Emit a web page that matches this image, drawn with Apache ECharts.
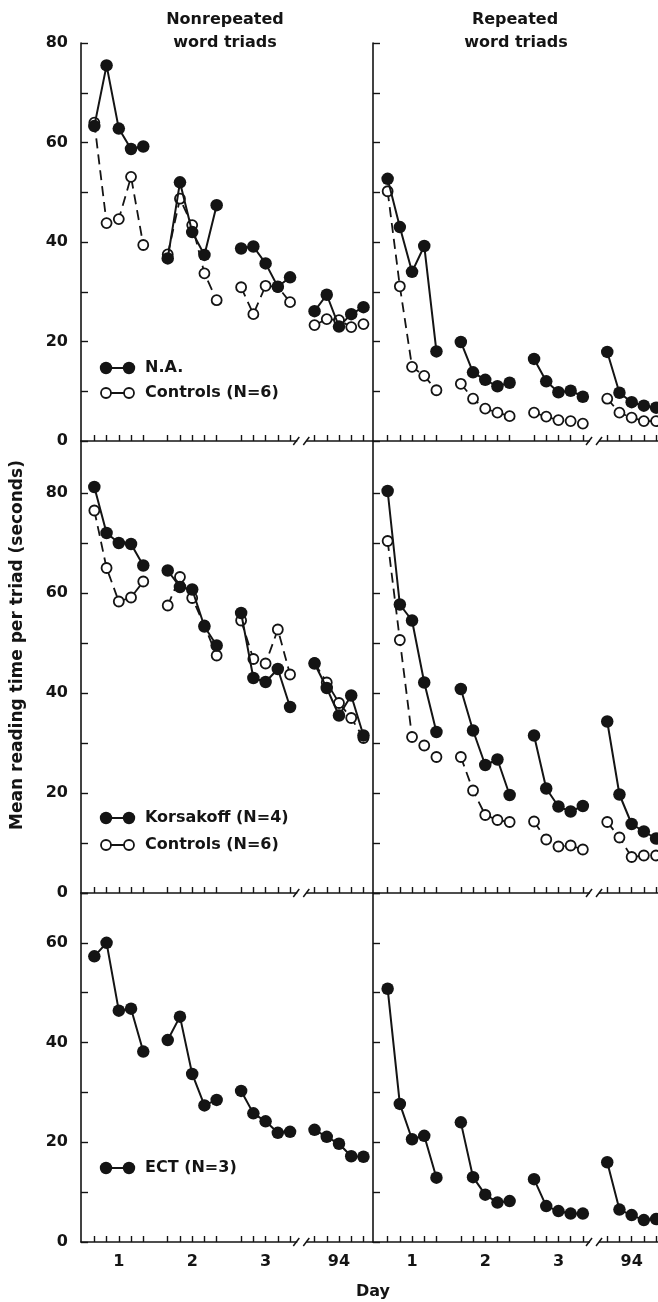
<!DOCTYPE html>
<html><head><meta charset="utf-8">
<script src="https://cdn.jsdelivr.net/npm/echarts@6/dist/echarts.min.js"></script>
<style>html,body{margin:0;padding:0;background:#fff}#c{width:658px;height:1302px}</style>
</head><body><div id="c"></div>
<script>
// ---- data ----
const dayLabels = ['1', '2', '3', '94'];
const trialsPerDay = 5;
const yTickValuesTall = [0, 10, 20, 30, 40, 50, 60, 70, 80];
const yTickValuesShort = [0, 10, 20, 30, 40, 50, 60, 70];
const yLabelValuesTall = [0, 20, 40, 60, 80];
const yLabelValuesShort = [0, 20, 40, 60];

// Nonrepeated word triads
const naNonrep     = [63.3, 75.5, 62.8, 58.7, 59.2, 36.7, 52.0, 42.0, 37.4, 47.4, 38.7, 39.1, 35.7, 31.0, 32.9, 26.1, 29.4, 23.0, 25.5, 26.9];
const ctrlNonrepA  = [64.0, 43.8, 44.6, 53.1, 39.4, 37.5, 48.7, 43.4, 33.7, 28.3, 30.9, 25.5, 31.2, 31.0, 27.9, 23.3, 24.5, 24.3, 22.9, 23.5];
const korNonrep    = [81.2, 72.0, 70.0, 69.8, 65.5, 64.5, 61.2, 60.7, 53.3, 49.5, 56.0, 43.0, 42.2, 44.8, 37.2, 45.9, 41.0, 35.5, 39.5, 31.5];
const ctrlNonrepB  = [76.5, 65.0, 58.3, 59.1, 62.3, 57.5, 63.2, 59.0, 53.5, 47.5, 54.5, 46.8, 45.9, 52.7, 43.7, 46.0, 42.1, 38.0, 35.0, 31.0];
const ectNonrep    = [57.3, 60.0, 46.4, 46.8, 38.2, 40.5, 45.2, 33.7, 27.4, 28.5, 30.3, 25.8, 24.2, 21.9, 22.1, 22.5, 21.1, 19.7, 17.2, 17.1];
// Repeated word triads
const naRep        = [52.7, 43.0, 34.0, 39.2, 18.0, 19.9, 13.8, 12.3, 11.0, 11.7, 16.5, 12.0, 9.8, 10.1, 8.9, 17.9, 9.7, 7.8, 7.1, 6.7];
const ctrlRepA     = [50.2, 31.1, 14.9, 13.1, 10.2, 11.5, 8.5, 6.5, 5.7, 5.0, 5.7, 4.9, 4.2, 4.0, 3.5, 8.5, 5.7, 4.7, 4.0, 4.0];
const korRep       = [80.4, 57.7, 54.5, 42.1, 32.2, 40.8, 32.5, 25.6, 26.7, 19.6, 31.5, 20.9, 17.3, 16.3, 17.4, 34.3, 19.7, 13.8, 12.3, 10.9];
const ctrlRepB     = [70.4, 50.6, 31.2, 29.5, 27.2, 27.2, 20.5, 15.6, 14.6, 14.2, 14.3, 10.7, 9.3, 9.5, 8.7, 14.2, 11.1, 7.2, 7.5, 7.5];
const ectRep       = [50.8, 27.7, 20.6, 21.3, 12.9, 24.0, 13.0, 9.5, 7.9, 8.2, 12.6, 7.2, 6.2, 5.7, 5.7, 16.0, 6.5, 5.4, 4.4, 4.6];

// ---- helpers ----
const slot = trialsPerDay + 1;
const tickPositions = [];
dayLabels.forEach((d, k) => { for (let j = 0; j < trialsPerDay; j++) tickPositions.push(k * slot + j); });
const dayCenters = dayLabels.map((d, k) => k * slot + (trialsPerDay - 1) / 2);
const breakPos = (dayLabels.length - 1) * slot - 1;

function toData(vals) {
  const out = [];
  dayLabels.forEach((d, k) => {
    for (let j = 0; j < trialsPerDay; j++) out.push([k * slot + j, vals[k * trialsPerDay + j]]);
    if (k < dayLabels.length - 1) out.push([k * slot + trialsPerDay, null]);
  });
  return out;
}

const FONT = 'DejaVu Sans';
const INK = '#141414';

const rows = [
  { top: 43, height: 398, max: 80, ticks: yTickValuesTall, labels: yLabelValuesTall },
  { top: 441, height: 452, max: 90.4, ticks: yTickValuesTall, labels: yLabelValuesTall },
  { top: 893, height: 349, max: 70, ticks: yTickValuesShort, labels: yLabelValuesShort }
];
const cols = [
  { left: 81, width: 292, min: -1.09, max: 22.78 },
  { left: 373, width: 285, min: -1.2, max: 22.16 }
];

const grid = [], xAxis = [], yAxis = [];
rows.forEach((r, ri) => cols.forEach((c, ci) => {
  const idx = ri * 2 + ci;
  grid.push({ left: c.left, top: r.top, width: c.width, height: r.height, containLabel: false });
  xAxis.push({
    type: 'value', gridIndex: idx, min: c.min, max: c.max, position: 'bottom',
    axisLine: { show: true, onZero: false, lineStyle: { color: INK, width: 1.6 } },
    axisTick: { show: true, inside: true, length: 6, customValues: tickPositions, lineStyle: { color: INK, width: 1.4 } },
    axisLabel: {
      show: ri === 2, customValues: dayCenters, margin: 12,
      formatter: v => dayLabels[dayCenters.indexOf(v)] || '',
      color: INK, fontFamily: FONT, fontWeight: 'bold', fontSize: 16
    },
    splitLine: { show: false }
  });
  yAxis.push({
    type: 'value', gridIndex: idx, min: 0, max: r.max,
    axisLine: { show: true, onZero: false, lineStyle: { color: INK, width: 1.6 } },
    axisTick: { show: true, inside: true, length: 7, customValues: r.ticks, lineStyle: { color: INK, width: 1.4 } },
    axisLabel: {
      show: ci === 0, customValues: r.labels, margin: 13,
      color: INK, fontFamily: FONT, fontWeight: 'bold', fontSize: 16
    },
    splitLine: { show: false }
  });
}));

const panels = [
  { filled: naNonrep, open: ctrlNonrepA },
  { filled: naRep, open: ctrlRepA },
  { filled: korNonrep, open: ctrlNonrepB },
  { filled: korRep, open: ctrlRepB },
  { filled: ectNonrep },
  { filled: ectRep }
];

const series = [];
panels.forEach((p, i) => {
  if (p.open) series.push({
    type: 'line', xAxisIndex: i, yAxisIndex: i, data: toData(p.open), connectNulls: false,
    symbol: 'circle', symbolSize: 10, z: 2,
    itemStyle: { color: '#fff', borderColor: INK, borderWidth: 1.8 },
    lineStyle: { color: INK, width: 1.8, type: [10, 6] }
  });
  series.push({
    type: 'line', xAxisIndex: i, yAxisIndex: i, data: toData(p.filled), connectNulls: false,
    symbol: 'circle', symbolSize: 12.5, z: 3,
    itemStyle: { color: INK, borderColor: INK, borderWidth: 0 },
    lineStyle: { color: INK, width: 2 }
  });
  series.push({
    type: 'custom', xAxisIndex: i, yAxisIndex: i, data: [[breakPos, 0]], clip: false, z: 10, silent: true,
    renderItem: (params, api) => {
      const pt = api.coord([api.value(0), api.value(1)]);
      return { type: 'group', children: [
        { type: 'rect', shape: { x: pt[0] - 5, y: pt[1] - 2.5, width: 9, height: 5 }, style: { fill: '#fff' } },
        { type: 'line', shape: { x1: pt[0] - 9, y1: pt[1] + 4, x2: pt[0] - 3, y2: pt[1] - 4 }, style: { stroke: INK, lineWidth: 1.5 } },
        { type: 'line', shape: { x1: pt[0] + 1, y1: pt[1] + 4, x2: pt[0] + 7, y2: pt[1] - 4 }, style: { stroke: INK, lineWidth: 1.5 } }
      ]};
    }
  });
});

function legendRow(y, filled, text) {
  const circ = cx => filled
    ? { type: 'circle', shape: { cx: cx, cy: y, r: 6.2 }, style: { fill: INK } }
    : { type: 'circle', shape: { cx: cx, cy: y, r: 5 }, style: { fill: '#fff', stroke: INK, lineWidth: 1.8 } };
  return [
    { type: 'line', shape: { x1: 106, y1: y, x2: 129, y2: y }, style: { stroke: INK, lineWidth: 2 } },
    circ(106), circ(129),
    { type: 'text', x: 145, y: y, style: { text: text, fill: INK, font: 'bold 16px "' + FONT + '"', verticalAlign: 'middle', align: 'left' } }
  ];
}

const textStyle = (t, size) => ({ text: t, fill: INK, font: 'bold ' + size + 'px "' + FONT + '"', align: 'center', verticalAlign: 'middle' });

const graphic = [].concat(
  legendRow(368, true, 'N.A.'),
  legendRow(393, false, 'Controls (N=6)'),
  legendRow(818, true, 'Korsakoff (N=4)'),
  legendRow(845, false, 'Controls (N=6)'),
  legendRow(1168, true, 'ECT (N=3)'),
  [
    { type: 'text', x: 225, y: 20, style: textStyle('Nonrepeated', 16) },
    { type: 'text', x: 225, y: 43, style: textStyle('word triads', 16) },
    { type: 'text', x: 515, y: 20, style: textStyle('Repeated', 16) },
    { type: 'text', x: 516, y: 43, style: textStyle('word triads', 16) },
    { type: 'text', x: 373, y: 1292, style: textStyle('Day', 16) },
    { type: 'text', x: 18, y: 645, rotation: Math.PI / 2, style: textStyle('Mean reading time per triad (seconds)', 17) }
  ]
);

const chart = echarts.init(document.getElementById('c'), null, { renderer: 'canvas' });
chart.setOption({
  backgroundColor: '#fff',
  animation: false,
  grid, xAxis, yAxis, series, graphic
});
</script>
</body></html>
